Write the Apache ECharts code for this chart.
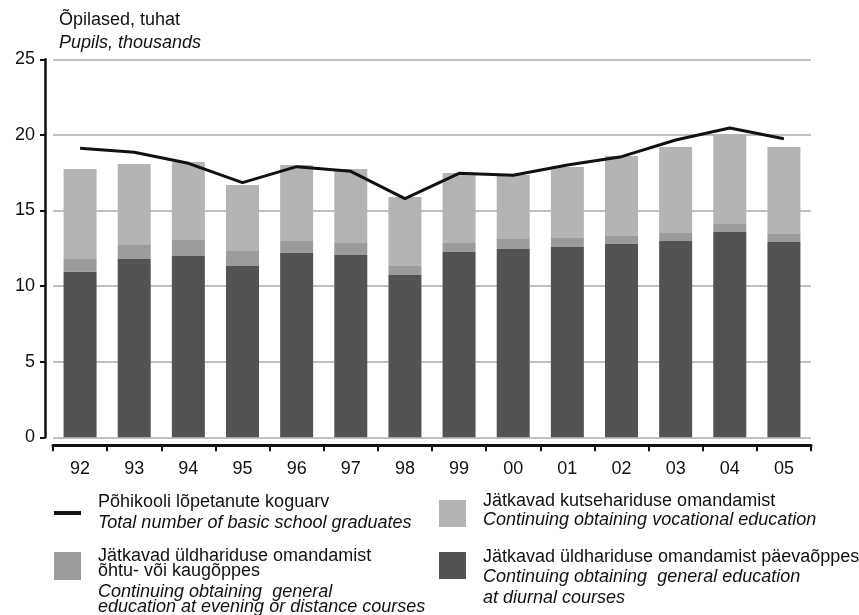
<!DOCTYPE html>
<html>
<head>
<meta charset="utf-8">
<script src="https://cdn.jsdelivr.net/npm/echarts@6/dist/echarts.min.js"></script>
<style>
  html, body { margin: 0; padding: 0; background: #fff; }
  #chart { width: 859px; height: 615px; }
</style>
</head>
<body>
<div id="chart"></div>
<script>
// aastad / years
var years = ['92', '93', '94', '95', '96', '97', '98', '99', '00', '01', '02', '03', '04', '05'];

// päevaõpe (dark), õhtu-/kaugõpe (medium), kutseharidus (light), thousands
var dayGeneral = [10.96, 11.79, 11.99, 11.33, 12.19, 12.06, 10.74, 12.26, 12.46, 12.59, 12.79, 12.98, 13.58, 12.92];
var eveningGeneral = [0.83, 0.93, 1.06, 0.99, 0.79, 0.79, 0.59, 0.59, 0.66, 0.59, 0.53, 0.53, 0.53, 0.53];
var vocational = [5.96, 5.36, 5.16, 4.37, 5.03, 4.90, 4.57, 4.63, 4.23, 4.70, 5.29, 5.69, 5.95, 5.75];
// põhikooli lõpetanute koguarv
var graduates = [19.11, 18.85, 18.12, 16.84, 17.90, 17.59, 15.78, 17.46, 17.33, 18.01, 18.56, 19.66, 20.46, 19.75];

var yTicks = [0, 5, 10, 15, 20, 25];

var cDark = '#535353', cMid = '#9b9b9b', cLight = '#b4b4b4', cLine = '#111111';
var fnt = '"Liberation Sans", Arial, Helvetica, sans-serif';

var chart = echarts.init(document.getElementById('chart'));

// one line of text, y = vertical middle
function txt(x, y, s, italic) {
  return {
    type: 'text', x: x, y: y,
    style: {
      text: s, fill: '#111', font: (italic ? 'italic ' : '') + '18px ' + fnt,
      verticalAlign: 'middle', align: 'left'
    }
  };
}

var option = {
  backgroundColor: '#fff',
  animation: false,
  grid: { left: 53, right: 48, top: 59.3, bottom: 177.7 },
  xAxis: {
    type: 'category',
    data: years,
    offset: 8,
    boundaryGap: true,
    axisLine: { onZero: false, lineStyle: { color: '#111', width: 3 } },
    axisTick: { show: true, length: 6, lineStyle: { color: '#111', width: 2 } },
    axisLabel: { color: '#111', fontSize: 18, fontFamily: fnt, margin: 15 }
  },
  yAxis: {
    type: 'value',
    min: yTicks[0], max: yTicks[yTicks.length - 1], interval: 5,
    offset: 8,
    axisLine: { show: true, onZero: false, lineStyle: { color: '#111', width: 2.5 } },
    axisTick: { show: true, length: 5, lineStyle: { color: '#111', width: 2 } },
    axisLabel: { color: '#111', fontSize: 18, fontFamily: fnt, margin: 10 },
    splitLine: { show: true, lineStyle: { color: '#aaaaaa', width: 1.5 } }
  },
  series: [
    { name: 'day', type: 'bar', stack: 'a', data: dayGeneral, barWidth: 33, itemStyle: { color: cDark } },
    { name: 'evening', type: 'bar', stack: 'a', data: eveningGeneral, barWidth: 33, itemStyle: { color: cMid } },
    { name: 'vocational', type: 'bar', stack: 'a', data: vocational, barWidth: 33, itemStyle: { color: cLight } },
    { name: 'graduates', type: 'line', data: graduates, symbol: 'none', z: 5,
      lineStyle: { color: cLine, width: 3 } }
  ],
  graphic: [
    txt(59, 20, 'Õpilased, tuhat'),
    txt(59, 43, 'Pupils, thousands', true),

    { type: 'rect', shape: { x: 54, y: 511, width: 27, height: 4 }, style: { fill: cLine } },
    txt(98, 502, 'Põhikooli lõpetanute koguarv'),
    txt(98, 523, 'Total number of basic school graduates', true),

    { type: 'rect', shape: { x: 54, y: 552, width: 27, height: 28 }, style: { fill: cMid } },
    txt(98, 556, 'Jätkavad üldhariduse omandamist'),
    txt(98, 571, 'õhtu- või kaugõppes'),
    txt(98, 592, 'Continuing obtaining  general', true),
    txt(98, 607, 'education at evening or distance courses', true),

    { type: 'rect', shape: { x: 439, y: 500, width: 27, height: 27 }, style: { fill: cLight } },
    txt(483, 501, 'Jätkavad kutsehariduse omandamist'),
    txt(483, 520, 'Continuing obtaining vocational education', true),

    { type: 'rect', shape: { x: 439, y: 552, width: 27, height: 27 }, style: { fill: cDark } },
    txt(483, 557, 'Jätkavad üldhariduse omandamist päevaõppes'),
    txt(483, 577, 'Continuing obtaining  general education', true),
    txt(483, 598, 'at diurnal courses', true)
  ]
};

chart.setOption(option);
</script>
</body>
</html>
